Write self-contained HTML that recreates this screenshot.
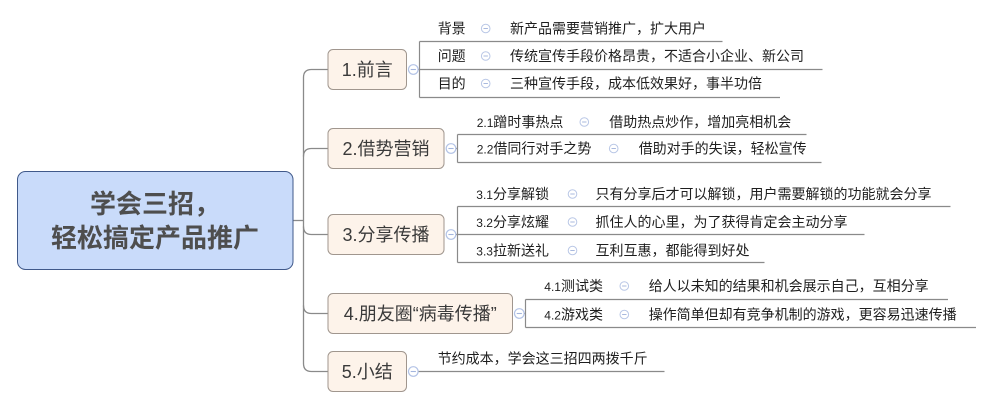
<!DOCTYPE html>
<html>
<head>
<meta charset="utf-8">
<style>
  html,body{margin:0;padding:0;background:#fff;}
  svg{display:block;}
  .t{font-family:"Liberation Sans","Noto Sans CJK SC",sans-serif;fill:#1e1e1e;font-size:14px;}
  .n{font-size:12px;}
  .b{font-family:"Liberation Sans","Noto Sans CJK SC",sans-serif;fill:#3a3a3a;font-size:18px;}
  .r{font-family:"Liberation Sans","Noto Sans CJK SC",sans-serif;fill:#4e4e4e;font-size:26px;font-weight:bold;}
</style>
</head>
<body>
<svg width="992" height="408" viewBox="0 0 992 408" xmlns="http://www.w3.org/2000/svg">
  <defs>
    <g id="c">
      <circle cx="0" cy="0" r="4.3" fill="#fff" stroke="#b9c7e6" stroke-width="1"/>
      <line x1="-2.2" y1="0" x2="2.2" y2="0" stroke="#a9b9de" stroke-width="1"/>
    </g>
    <g id="cb">
      <circle cx="0" cy="0" r="4.8" fill="#fff" stroke="#b3c3e6" stroke-width="1.2"/>
      <line x1="-2.6" y1="0" x2="2.6" y2="0" stroke="#a3b5de" stroke-width="1.1"/>
    </g>
  </defs>

  <!-- main connectors -->
  <g fill="none" stroke="#8a8a8a" stroke-width="1.3">
    <path d="M293 220.5 H303.5"/>
    <path d="M328 69.5 H311.5 Q303.5 69.5 303.5 77.5 V363.5 Q303.5 371.5 311.5 371.5 H328"/>
    <path d="M303.5 156.5 Q303.5 148.5 311.5 148.5 H328"/>
    <path d="M303.5 226.5 Q303.5 234.5 311.5 234.5 H328"/>
    <path d="M303.5 305.5 Q303.5 313.5 311.5 313.5 H328"/>
  </g>

  <!-- root -->
  <rect x="17.5" y="171.5" width="275.5" height="98" rx="8" ry="8" fill="#c9dbfa" stroke="#40598a" stroke-width="1"/>
  <text class="r" x="155" y="213" text-anchor="middle">学会三招，</text>
  <text class="r" x="155" y="247" text-anchor="middle">轻松搞定产品推广</text>

  <!-- branch boxes -->
  <g fill="#fdf3ea" stroke="#a0968e" stroke-width="1">
    <rect x="328" y="49.5" width="78.5" height="40" rx="5"/>
    <rect x="328" y="128.5" width="116" height="40" rx="5"/>
    <rect x="328" y="214.5" width="116" height="40" rx="5"/>
    <rect x="328" y="293.5" width="184.5" height="40" rx="5"/>
    <rect x="328" y="351.5" width="78.5" height="40" rx="5"/>
  </g>
  <text class="b" x="367.3" y="76" text-anchor="middle">1.前言</text>
  <text class="b" x="386" y="155" text-anchor="middle">2.借势营销</text>
  <text class="b" x="386" y="241" text-anchor="middle">3.分享传播</text>
  <text class="b" x="420.3" y="320" text-anchor="middle">4.朋友圈“病毒传播”</text>
  <text class="b" x="367.3" y="378" text-anchor="middle">5.小结</text>

  <!-- child brackets / underlines -->
  <g fill="none" stroke="#8a8a8a" stroke-width="1.2">
    <!-- branch 1 -->
    <path d="M417.5 69.5 H420"/>
    <path d="M419.5 41.5 V97.5"/>
    <path d="M419.5 41.5 H722.5"/>
    <path d="M419.5 69.5 H822.5"/>
    <path d="M419.5 97.5 H780"/>
    <!-- branch 2 -->
    <path d="M455.5 148.5 H458"/>
    <path d="M457.5 134.5 V162.5"/>
    <path d="M457.5 134.5 H806.5"/>
    <path d="M457.5 162.5 H821.5"/>
    <!-- branch 3 -->
    <path d="M455.5 234.5 H457.5"/>
    <path d="M457.5 206.5 V262.5"/>
    <path d="M457.5 206.5 H950.5"/>
    <path d="M457.5 234.5 H864.5"/>
    <path d="M457.5 262.5 H764.5"/>
    <!-- branch 4 -->
    <path d="M523.5 313.5 H525.5"/>
    <path d="M525.5 299.5 V327.5"/>
    <path d="M525.5 299.5 H948"/>
    <path d="M525.5 327.5 H976"/>
    <!-- branch 5 -->
    <path d="M417.5 371.5 H664.5"/>
  </g>

  <!-- branch collapse circles -->
  <use href="#cb" x="413.3" y="69.5"/>
  <use href="#cb" x="451" y="148.5"/>
  <use href="#cb" x="451" y="234.5"/>
  <use href="#cb" x="519.3" y="313.5"/>
  <use href="#cb" x="413.3" y="371.5"/>

  <!-- branch 1 children -->
  <text class="t" x="437.7" y="33.5">背景</text>
  <use href="#c" x="485.7" y="28.5"/>
  <text class="t" x="510" y="33.5">新产品需要营销推广，扩大用户</text>

  <text class="t" x="437.7" y="61">问题</text>
  <use href="#c" x="485.7" y="56"/>
  <text class="t" x="510" y="61">传统宣传手段价格昂贵，不适合小企业、新公司</text>

  <text class="t" x="437.7" y="88.5">目的</text>
  <use href="#c" x="485.7" y="83.5"/>
  <text class="t" x="510" y="88.5">三种宣传手段，成本低效果好，事半功倍</text>

  <!-- branch 2 children -->
  <text class="t" x="476.7" y="127"><tspan class="n">2.1</tspan>蹭时事热点</text>
  <use href="#c" x="584.3" y="122"/>
  <text class="t" x="609.3" y="127">借助热点炒作，增加亮相机会</text>

  <text class="t" x="476.7" y="153.5"><tspan class="n">2.2</tspan>借同行对手之势</text>
  <use href="#c" x="613.7" y="148.5"/>
  <text class="t" x="638.7" y="153.5">借助对手的失误，轻松宣传</text>

  <!-- branch 3 children -->
  <text class="t" x="476.3" y="199">
    <tspan class="n">3.1</tspan>分享解锁</text>
  <use href="#c" x="572.5" y="194"/>
  <text class="t" x="595.5" y="199">只有分享后才可以解锁，用户需要解锁的功能就会分享</text>

  <text class="t" x="476.3" y="227"><tspan class="n">3.2</tspan>分享炫耀</text>
  <use href="#c" x="572.5" y="222"/>
  <text class="t" x="595.5" y="227">抓住人的心里，为了获得肯定会主动分享</text>

  <text class="t" x="476.3" y="255.5"><tspan class="n">3.3</tspan>拉新送礼</text>
  <use href="#c" x="572.5" y="250.5"/>
  <text class="t" x="595.5" y="255.5">互利互惠，都能得到好处</text>

  <!-- branch 4 children -->
  <text class="t" x="544.3" y="291"><tspan class="n">4.1</tspan>测试类</text>
  <use href="#c" x="624.3" y="286"/>
  <text class="t" x="648.7" y="291">给人以未知的结果和机会展示自己，互相分享</text>

  <text class="t" x="544.3" y="319.5"><tspan class="n">4.2</tspan>游戏类</text>
  <use href="#c" x="624.3" y="314.5"/>
  <text class="t" x="648.7" y="319.5">操作简单但却有竞争机制的游戏，更容易迅速传播</text>

  <!-- branch 5 child -->
  <text class="t" x="437.7" y="363.5">节约成本，学会这三招四两拨千斤</text>
</svg>
</body>
</html>
